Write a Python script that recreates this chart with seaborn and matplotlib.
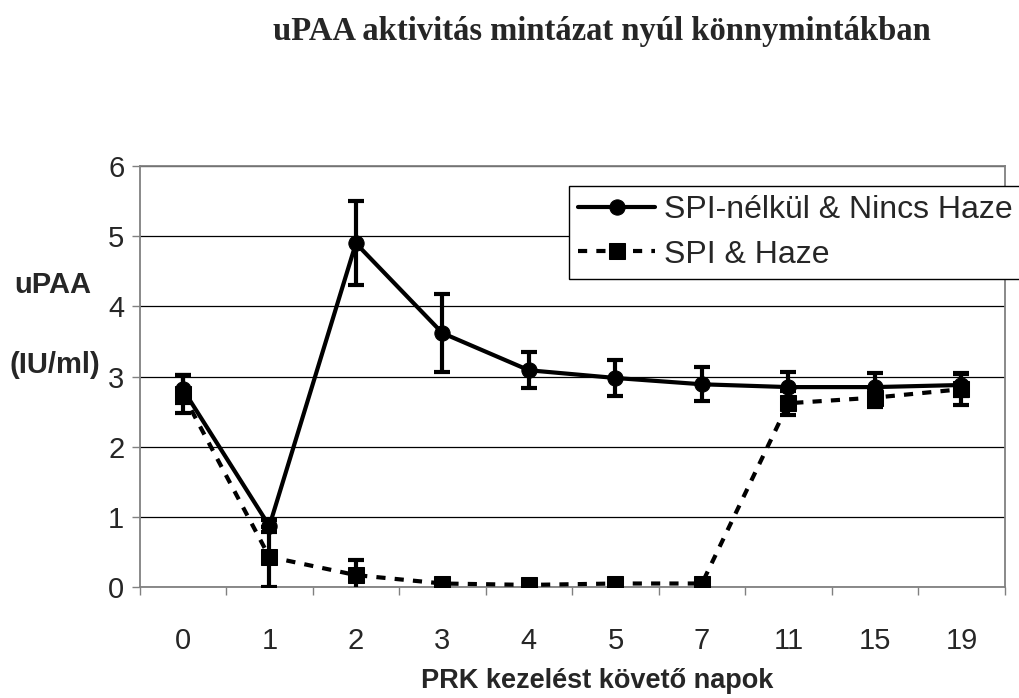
import numpy as np
import pandas as pd
import matplotlib
matplotlib.use("Agg")
import matplotlib.pyplot as plt
import seaborn as sns

# ---------------------------------------------
# Adatok
# ---------------------------------------------
days = ["0", "1", "2", "3", "4", "5", "7", "11", "15", "19"]

no_spi = [2.82, 0.87, 4.90, 3.62, 3.09, 2.98, 2.89, 2.85, 2.85, 2.88]
no_spi_err = [0.20, 0.08, 0.60, 0.56, 0.26, 0.25, 0.24, 0.21, 0.20, 0.15]

spi = [2.75, 0.43, 0.17, 0.05, 0.03, 0.05, 0.05, 2.62, 2.70, 2.82]
spi_err = [0.27, 0.43, 0.21, 0.02, 0.02, 0.02, 0.02, 0.17, 0.13, 0.23]

label_no_spi = "SPI-nélkül & Nincs Haze"
label_spi = "SPI & Haze"


def build_frame():

    pos = np.arange(len(days))
    df = pd.concat([
        pd.DataFrame({"pos": pos, "value": no_spi, "err": no_spi_err,
                      "group": label_no_spi}),
        pd.DataFrame({"pos": pos, "value": spi, "err": spi_err,
                      "group": label_spi}),
    ])
    return df


def create_graph(df):

    sns.set_theme(style="white")
    plt.rcParams["font.family"] = ["Liberation Sans", "DejaVu Sans"]

    fig = plt.figure(figsize=(10.19, 6.98), dpi=100)
    ax = fig.add_axes([0.137, 0.159, 0.849, 0.603])

    sns.lineplot(
        data=df, x="pos", y="value",
        hue="group", style="group",
        palette=["black", "black"],
        markers={label_no_spi: "o", label_spi: "s"},
        dashes={label_no_spi: "", label_spi: (2.2, 2.2)},
        markersize=11, linewidth=3,
        markeredgecolor="black",
        ax=ax, zorder=3
    )

    for name in [label_no_spi, label_spi]:
        sub = df[df["group"] == name]
        ax.errorbar(
            sub["pos"], sub["value"], yerr=sub["err"],
            fmt="none", ecolor="black", elinewidth=3,
            capsize=5.5, capthick=3, zorder=4
        )

    # tengelyek
    ax.set_xlim(-0.5, len(days) - 0.5)
    ax.set_ylim(0, 6)
    ax.set_yticks(range(0, 7))
    ax.set_xticks(np.arange(len(days)))
    ax.set_xticklabels(days)
    ax.set_xticks(np.arange(-0.5, len(days)), minor=True)
    ax.tick_params(axis="x", which="major", length=0, labelsize=21, pad=29)
    ax.tick_params(axis="x", which="minor", length=6, width=1,
                   color="#808080", direction="out", bottom=True)
    ax.tick_params(axis="y", length=6, width=1, color="#808080",
                   direction="out", left=True, labelsize=21, pad=5)

    ax.yaxis.grid(True, color="black", linewidth=0.9)
    ax.set_axisbelow(True)
    for s in ax.spines.values():
        s.set_color("#808080")
        s.set_linewidth(1.3)

    ax.set_xlabel("")
    ax.set_ylabel("")

    fig.text(0.586, 0.014, "PRK kezelést követő napok", ha="center",
             fontsize=19.5, fontweight="bold")
    fig.text(0.014, 0.592, "uPAA", ha="left", va="center",
             fontsize=21, fontweight="bold")
    fig.text(0.009, 0.477, "(IU/ml)", ha="left", va="center",
             fontsize=21, fontweight="bold")
    fig.text(0.591, 0.955, "uPAA aktivitás mintázat nyúl könnymintákban",
             ha="center", va="center", fontsize=23.5, fontweight="bold",
             family=["Liberation Serif", "DejaVu Serif"])

    leg = ax.legend(
        loc="upper left", bbox_to_anchor=(0.558, 0.734),
        bbox_transform=fig.transFigure,
        fontsize=23, frameon=True, fancybox=False,
        handlelength=2.4, handletextpad=0.3, borderpad=0.3,
        labelspacing=0.45, borderaxespad=0
    )
    leg.get_frame().set_edgecolor("black")
    leg.get_frame().set_linewidth(1)
    leg.get_frame().set_alpha(1)

    fig.savefig("out.png", dpi=100)


def main():

    data = build_frame()
    create_graph(data)


if __name__ == "__main__":
    main()
